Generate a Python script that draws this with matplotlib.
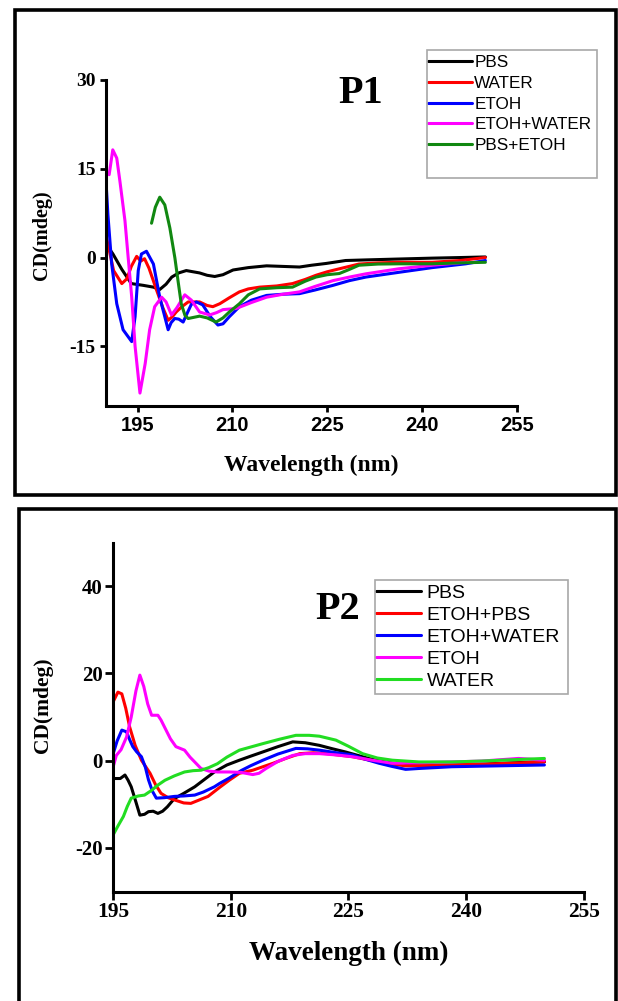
import matplotlib
matplotlib.use("Agg")
import matplotlib.pyplot as plt
from matplotlib.patches import Rectangle
from matplotlib.font_manager import FontProperties

plt.rcParams['axes.unicode_minus'] = False

W, H = 618, 1001

# ---------------- P1 data (wavelength nm, CD mdeg) ----------------
p1_pbs_x = [190.0, 191.1, 192.5, 194.0, 195.9, 197.5, 198.5, 199.5, 200.4, 201.5, 202.7, 204.8, 206.0,
            207.2, 208.5, 210.1, 212.5, 215.4, 218.0, 220.6, 222.5, 224.8, 227.9, 231.1, 236.3, 241.6,
            246.0, 250.0]
p1_pbs_y = [2.3, 0.6, -2.0, -4.4, -4.7, -5.0, -5.4, -4.5, -3.3, -2.6, -2.2, -2.6, -3.0,
            -3.2, -2.9, -2.1, -1.7, -1.4, -1.5, -1.6, -1.3, -1.0, -0.5, -0.4, -0.25, -0.1,
            0.0, 0.1]

p1_water_x = [190.0, 190.6, 191.2, 192.5, 193.3, 194.0, 194.85, 195.5, 196.1, 196.8, 198.0, 199.0,
              199.83, 200.5, 201.1, 202.0, 203.0, 204.8, 206.0, 206.9, 208.0, 209.5, 211.1, 212.5,
              214.3, 217.0, 219.5, 221.5, 223.2, 225.0, 226.9, 230.0, 233.0, 236.3, 241.6, 246.0, 250.0]
p1_water_y = [3.7, 0.8, -2.2, -4.4, -3.6, -1.5, 0.2, -0.6, -0.2, -1.8, -5.5, -8.5,
              -10.6, -10.0, -9.2, -8.3, -7.5, -7.5, -8.1, -8.3, -7.8, -6.8, -5.8, -5.3,
              -5.0, -4.8, -4.4, -3.7, -3.0, -2.4, -1.9, -1.1, -0.9, -0.8, -0.8, -0.5, 0.0]

p1_etoh_x = [190.0, 190.3, 190.9, 191.7, 192.7, 194.06, 194.6, 195.1, 195.6, 196.4, 197.5, 198.5,
             199.83, 200.3, 200.88, 201.5, 202.2, 202.8, 203.5, 204.3, 205.3, 206.5, 207.7, 208.5,
             209.5, 211.1, 213.0, 215.4, 218.0, 220.6, 223.0, 225.9, 228.5, 231.1, 236.3, 241.6,
             246.9, 250.0]
p1_etoh_y = [12.9, 7.3, -1.1, -7.8, -12.2, -14.2, -10.0, -2.2, 0.6, 1.06, -1.1, -6.7,
             -12.2, -11.0, -10.3, -10.4, -10.9, -9.5, -7.9, -7.5, -8.0, -10.0, -11.4, -11.2,
             -10.0, -8.3, -7.2, -6.4, -6.2, -6.1, -5.5, -4.7, -3.9, -3.3, -2.5, -1.7,
             -1.06, -0.5]

p1_mix_x = [190.5, 191.07, 191.7, 192.2, 193.0, 193.5, 194.06, 194.6, 195.37, 196.2, 196.9, 197.7,
            198.8, 199.5, 200.36, 201.2, 202.46, 203.5, 204.8, 206.4, 207.5, 208.5, 210.6, 213.0,
            215.4, 218.0, 220.6, 223.0, 225.9, 228.5, 231.1, 236.3, 241.6, 246.9]
p1_mix_y = [14.0, 18.2, 16.8, 12.9, 6.2, 0.1, -6.6, -15.0, -22.9, -17.9, -12.2, -8.3,
            -6.7, -7.5, -9.7, -8.5, -6.3, -7.2, -9.2, -9.7, -9.3, -8.8, -8.6, -7.6,
            -6.7, -6.2, -5.8, -4.9, -3.9, -3.3, -2.75, -1.9, -1.3, -0.8]

p1_pbsetoh_x = [197.2, 197.8, 198.5, 199.3, 200.1, 200.9, 201.4, 201.9, 202.5, 203.0, 204.8, 206.0,
                207.4, 208.5, 209.5, 211.1, 212.5, 214.3, 217.0, 219.5, 221.5, 223.2, 225.0, 226.9,
                228.5, 230.0, 233.0, 236.3, 241.6, 246.0, 250.0]
p1_pbsetoh_y = [5.8, 8.5, 10.2, 8.9, 5.0, -0.1, -4.0, -7.8, -9.8, -10.3, -9.9, -10.2,
                -10.9, -10.2, -9.2, -7.8, -6.3, -5.3, -5.1, -5.0, -4.0, -3.3, -2.9, -2.7,
                -2.0, -1.3, -1.1, -1.06, -1.06, -0.9, -0.8]

# ---------------- P2 data ----------------
p2_pbs_x = [195.0, 195.9, 196.5, 196.9, 197.3, 197.9, 198.4, 199.0, 199.5, 200.1, 200.7, 201.3,
            201.9, 202.8, 204.0, 205.4, 206.5, 207.9, 209.5, 211.1, 212.5, 214.1, 216.0, 217.9,
            219.5, 221.3, 223.0, 224.6, 226.0, 227.6, 229.0, 230.6, 232.3, 235.0, 238.2, 242.0,
            246.0, 250.0]
p2_pbs_y = [-4.1, -4.1, -3.3, -4.5, -6.0, -9.5, -12.5, -12.3, -11.7, -11.6, -12.1, -11.6,
            -10.6, -8.7, -7.5, -6.0, -4.5, -2.6, -1.0, 0.1, 1.0, 2.0, 3.2, 4.3,
            4.1, 3.5, 2.7, 2.0, 1.3, 0.5, -0.1, -0.6, -1.0, -1.1, -1.0, -0.8,
            -0.5, -0.27]

p2_etohpbs_x = [195.0, 195.6, 196.1, 196.6, 197.1, 197.8, 198.6, 199.7, 200.4, 201.1, 202.0, 202.8,
                204.0, 204.9, 206.0, 207.1, 208.6, 209.8, 211.1, 212.8, 215.4, 217.0, 218.8, 220.5,
                222.2, 225.5, 227.5, 229.8, 232.3, 235.0, 238.2, 244.0, 250.0]
p2_etohpbs_y = [13.5, 15.7, 15.3, 12.0, 7.7, 3.5, 0.1, -2.9, -5.5, -7.5, -8.5, -9.0,
                -9.7, -9.8, -9.0, -8.2, -6.1, -4.5, -2.9, -2.2, -0.6, 0.5, 1.6, 1.8,
                1.6, 0.9, 0.2, -0.6, -1.2, -1.1, -1.0, -0.7, -0.3]

p2_mix_x = [195.0, 195.5, 196.1, 196.7, 197.1, 197.5, 198.0, 198.6, 199.1, 199.5, 200.0, 200.5,
            201.5, 202.8, 204.0, 205.4, 206.5, 207.9, 208.6, 209.8, 211.3, 212.5, 214.1, 216.0,
            218.3, 219.8, 221.3, 223.5, 225.5, 227.0, 228.9, 230.5, 232.3, 234.0, 238.2, 244.0,
            250.0]
p2_mix_y = [1.6, 4.5, 7.0, 6.6, 4.8, 3.2, 2.0, 0.9, -1.5, -4.4, -7.0, -8.6,
            -8.5, -8.2, -8.1, -7.9, -7.2, -6.0, -5.2, -4.0, -2.3, -1.2, 0.1, 1.5,
            2.8, 2.7, 2.4, 1.8, 1.3, 0.4, -0.6, -1.3, -2.0, -1.8, -1.4, -1.2,
            -1.0]

p2_etoh_x = [195.0, 195.4, 196.0, 196.7, 197.3, 197.9, 198.4, 198.9, 199.4, 199.9, 200.7, 201.1,
             201.6, 202.3, 203.0, 204.1, 204.8, 205.5, 206.2, 207.2, 208.3, 209.8, 211.3, 212.8,
             213.6, 214.5, 216.0, 217.9, 219.5, 221.3, 223.5, 225.5, 228.0, 230.6, 234.0, 238.2,
             242.0, 246.7, 250.0]
p2_etoh_y = [-1.4, 1.2, 2.5, 5.4, 10.0, 16.0, 19.6, 17.0, 13.0, 10.4, 10.4, 9.3,
             7.5, 5.0, 3.2, 2.4, 0.8, -0.5, -1.8, -2.4, -2.6, -2.6, -2.7, -3.2,
             -2.9, -1.8, -0.2, 1.2, 1.6, 1.6, 1.3, 0.9, 0.1, -0.6, -0.5, -0.3,
             -0.1, 0.5, 0.1]

p2_water_x = [195.0, 195.6, 196.3, 196.8, 197.3, 198.2, 199.0, 199.9, 200.7, 201.6, 202.8, 204.1,
              205.2, 206.2, 207.2, 208.3, 209.5, 211.1, 212.5, 214.1, 216.2, 218.3, 220.0, 221.3,
              223.4, 225.0, 226.8, 228.7, 230.6, 234.0, 238.2, 242.0, 244.6, 250.0]
p2_water_y = [-17.0, -15.0, -12.8, -10.5, -8.6, -8.1, -7.9, -6.8, -5.6, -4.5, -3.5, -2.6,
              -2.3, -2.2, -1.6, -0.7, 0.8, 2.4, 3.1, 3.9, 4.9, 5.8, 5.8, 5.6,
              4.7, 3.3, 1.6, 0.6, 0.1, -0.3, -0.3, -0.1, 0.1, 0.5]

p1_labels = ["PBS", "WATER", "ETOH", "ETOH+WATER", "PBS+ETOH"]
p2_labels = ["PBS", "ETOH+PBS", "ETOH+WATER", "ETOH", "WATER"]
p1_xticks = [195, 210, 225, 240, 255]
p1_yticks = [-15, 0, 15, 30]
p2_xticks = [195, 210, 225, 240, 255]
p2_yticks = [-20, 0, 20, 40]

serif = 'Liberation Serif'
sans = 'Liberation Sans'


def fx(x):
    return x / W


def fy(y):
    return 1 - y / H


def axes_at(fig, left, right, top, bottom):
    return fig.add_axes([fx(left), fy(bottom), (right - left) / W, (bottom - top) / H])


def frame(fig, x0, y0, x1, y1, **kw):
    r = Rectangle((fx(x0), fy(y1)), (x1 - x0) / W, (y1 - y0) / H, transform=fig.transFigure,
                  fill=False, clip_on=False, **kw)
    fig.patches.append(r)


def style_axes(ax, tick_font, ylab_font, tick_len, tick_pad):
    for s in ['top', 'right']:
        ax.spines[s].set_visible(False)
    for s in ['left', 'bottom']:
        ax.spines[s].set_linewidth(2.2)
    ax.tick_params(direction='out', length=tick_len, width=2.0, pad=tick_pad)
    for t in ax.get_xticklabels():
        t.set_fontproperties(tick_font)
    for t in ax.get_yticklabels():
        t.set_fontproperties(ylab_font)


fig = plt.figure(figsize=(W / 100, H / 100), dpi=100)

# outer boxes
frame(fig, 15, 10, 616, 495, edgecolor='black', linewidth=2.6)
frame(fig, 18.7, 508.5, 616, 1012, edgecolor='black', linewidth=2.6)

lw = 2.2
line_kw = dict(lw=lw, solid_joinstyle='round', solid_capstyle='round')

# ---------------- P1 ----------------
ax1 = axes_at(fig, 106, 517, 80, 405.5)
h1 = []
h1 += ax1.plot(p1_pbs_x, p1_pbs_y, color='black', **line_kw)
h1 += ax1.plot(p1_water_x, p1_water_y, color='#ff0000', **line_kw)
h1 += ax1.plot(p1_etoh_x, p1_etoh_y, color='#0000ff', **line_kw)
h1 += ax1.plot(p1_mix_x, p1_mix_y, color='#ff00ff', **line_kw)
h1 += ax1.plot(p1_pbsetoh_x, p1_pbsetoh_y, color='#118811', **line_kw)
ax1.set_xlim(190, 255)
ax1.set_ylim(-25, 30)
ax1.set_xticks(p1_xticks)
ax1.set_yticks(p1_yticks)
style_axes(ax1, FontProperties(family=sans, weight='bold', size=14.5),
           FontProperties(family=serif, weight='bold', size=14), 4.5, 3)
ax1.set_xlabel("Wavelength (nm)", fontfamily=serif, fontweight='bold', fontsize=17)
ax1.xaxis.set_label_coords(0.5, -0.152)
ax1.set_ylabel("CD(mdeg)", fontfamily=serif, fontweight='bold', fontsize=14.5)
ax1.yaxis.set_label_coords(-0.131, 0.524)

leg1 = ax1.legend(h1, p1_labels, loc='upper left', bbox_to_anchor=(fx(428), fy(55)),
                  bbox_transform=fig.transFigure, frameon=False, borderpad=0, borderaxespad=0,
                  handlelength=2.6, handletextpad=0.1, labelspacing=0.34,
                  prop=FontProperties(family=sans, size=12.3))
frame(fig, 426.7, 50, 596.7, 178, edgecolor='#a8a8a8', linewidth=1.2)
fig.text(fx(361), fy(103), "P1", ha='center', va='baseline', fontfamily=serif,
         fontweight='bold', fontsize=29)

# ---------------- P2 ----------------
ax2 = axes_at(fig, 113.2, 583.6, 542.5, 891.5)
h2 = []
h2 += ax2.plot(p2_pbs_x, p2_pbs_y, color='black', **line_kw)
h2 += ax2.plot(p2_etohpbs_x, p2_etohpbs_y, color='#ff0000', **line_kw)
h2 += ax2.plot(p2_mix_x, p2_mix_y, color='#0000ff', **line_kw)
h2 += ax2.plot(p2_etoh_x, p2_etoh_y, color='#ff00ff', **line_kw)
h2 += ax2.plot(p2_water_x, p2_water_y, color='#22dd22', **line_kw)
ax2.set_xlim(195, 255)
ax2.set_ylim(-30, 50)
ax2.set_xticks(p2_xticks)
ax2.set_yticks(p2_yticks)
style_axes(ax2, FontProperties(family=serif, weight='bold', size=15.5),
           FontProperties(family=serif, weight='bold', size=15), 5.5, 2)
ax2.set_xlabel("Wavelength (nm)", fontfamily=serif, fontweight='bold', fontsize=19.5)
ax2.xaxis.set_label_coords(0.5, -0.142)
ax2.set_ylabel("CD(mdeg)", fontfamily=serif, fontweight='bold', fontsize=15.5)
ax2.yaxis.set_label_coords(-0.128, 0.533)

leg2 = ax2.legend(h2, p2_labels, loc='upper left', bbox_to_anchor=(fx(376), fy(584)),
                  bbox_transform=fig.transFigure, frameon=False, borderpad=0, borderaxespad=0,
                  handlelength=2.3, handletextpad=0.3, labelspacing=0.23,
                  prop=FontProperties(family=sans, size=14))
frame(fig, 375, 580, 568, 694, edgecolor='#a8a8a8', linewidth=1.2)
fig.text(fx(337.5), fy(619), "P2", ha='center', va='baseline', fontfamily=serif,
         fontweight='bold', fontsize=29)

fig.savefig("out.png", dpi=100)
